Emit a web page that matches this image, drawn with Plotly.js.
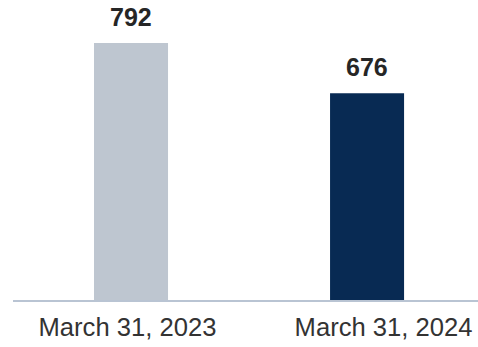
<!DOCTYPE html>
<html>
<head>
<meta charset="utf-8">
<script src="https://cdn.plot.ly/plotly-3.0.1.min.js"></script>
<style>html,body{margin:0;padding:0;background:#fff;}#chart{width:478px;height:347px;}</style>
</head>
<body>
<div id="chart"></div>
<script>
const categories = ["March 31, 2023", "March 31, 2024"];
const values = [792, 676];
const labels = ["792", "676"];
const barColors = ["#bec6d0", "#082a53"];

const trace = {
  type: "bar",
  x: categories,
  y: values,
  marker: { color: barColors },
  width: 0.3136,
  hoverinfo: "skip"
};

// invisible trace carrying the category tick labels (labels are offset from bars in the reference)
const labelTrace = {
  type: "scatter", mode: "none",
  x: categories, y: values,
  xaxis: "x2", yaxis: "y",
  hoverinfo: "skip", showlegend: false
};

const annotations = categories.map((c, i) => ({
  x: c, y: values[i], xref: "x", yref: "y",
  text: "<b>" + labels[i] + "</b>",
  showarrow: false, yanchor: "bottom", yshift: 10,
  font: { family: "Liberation Sans, Arial, sans-serif", size: 25, color: "#262626" }
}));

const layout = {
  width: 478, height: 347,
  margin: { l: 13, r: 0, t: 10, b: 47 },
  paper_bgcolor: "#ffffff", plot_bgcolor: "#ffffff",
  showlegend: false,
  xaxis: {
    type: "category",
    range: [-0.5, 1.47],
    showgrid: false, zeroline: false,
    showline: true, linecolor: "#b9c4d3", linewidth: 2,
    ticks: "", showticklabels: false
  },
  xaxis2: {
    type: "category",
    overlaying: "x", anchor: "y", side: "bottom",
    range: [-0.447, 1.369],
    showgrid: false, zeroline: false, showline: false,
    ticks: "", ticklabelstandoff: 9,
    tickfont: { family: "Liberation Sans, Arial, sans-serif", size: 25.6, color: "#333333" }
  },
  yaxis: {
    range: [200, 868],
    visible: false, showgrid: false, zeroline: false
  },
  annotations: annotations
};

Plotly.newPlot("chart", [trace, labelTrace], layout, { displayModeBar: false, staticPlot: true });
</script>
</body>
</html>
